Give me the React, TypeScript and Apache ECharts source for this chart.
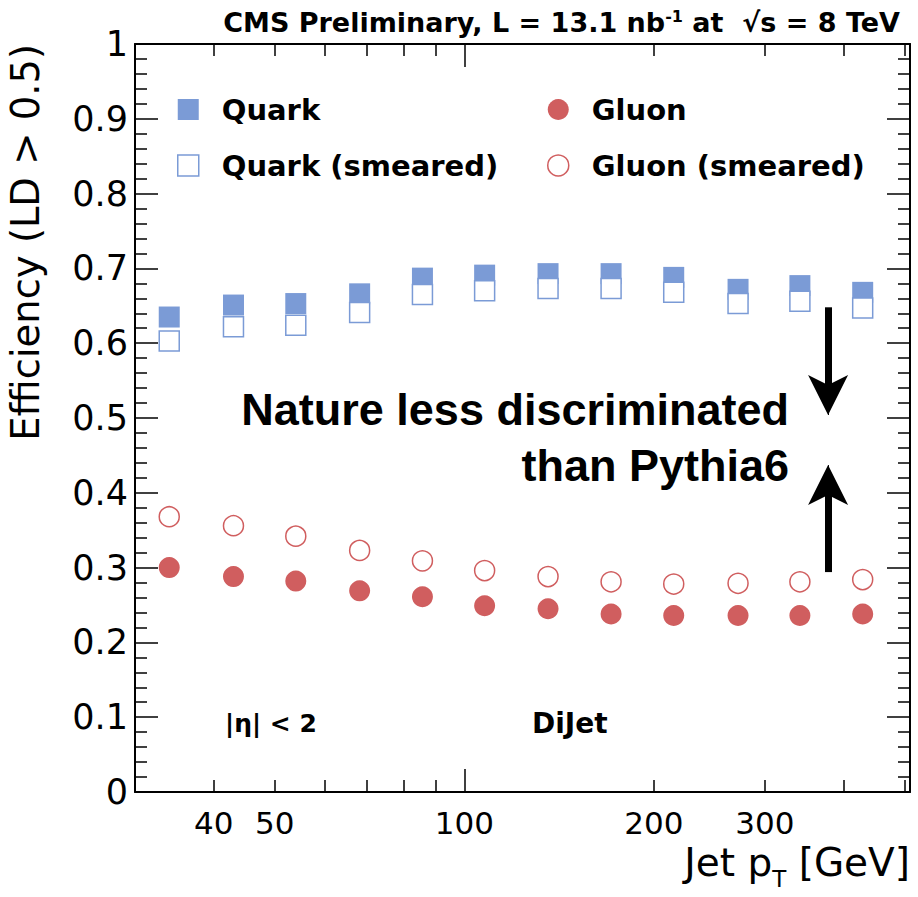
import React, { useEffect, useRef } from 'react';
import * as echarts from 'echarts';

// ---- data ----
const ptBins = [34.0, 43.0, 54.0, 68.2, 85.8, 107.7, 135.8, 171, 215, 272, 341, 429];
const quarkEff = [0.635, 0.651, 0.653, 0.666, 0.687, 0.691, 0.693, 0.693, 0.688, 0.672, 0.677, 0.668];
const quarkSmearedEff = [0.603, 0.622, 0.624, 0.641, 0.665, 0.670, 0.673, 0.673, 0.668, 0.653, 0.656, 0.647];
const gluonEff = [0.300, 0.288, 0.282, 0.269, 0.261, 0.249, 0.245, 0.238, 0.236, 0.236, 0.236, 0.238];
const gluonSmearedEff = [0.368, 0.356, 0.342, 0.323, 0.309, 0.296, 0.288, 0.281, 0.278, 0.279, 0.281, 0.284];

const xTickLabels = [40, 50, 100, 200, 300];
const xMinorTicks = [40, 50, 60, 70, 80, 90, 200, 300, 400, 500];
const xMajorTicks = [100];
const xRange = [30, 510];
const yTickInterval = 0.1;

// annotation arrows (data coordinates: shaft start, shaft end, head base, tip)
const arrowPt = 378;
const arrowDown = [0.648, 0.535, 0.545, 0.504];
const arrowUp = [0.294, 0.405, 0.395, 0.437];

const BLUE = '#7b9bd6';
const RED = '#d05e5f';
const lg = (v: number) => Math.log10(v);

function buildOption() {
  const xMin = lg(xRange[0]);
  const xMax = lg(xRange[1]);
  const axisLineStyle = { color: '#000', width: 2 };
  const tickLineStyle = { color: '#000', width: 1.5 };

  const xAxisBase = {
    type: 'value',
    min: xMin,
    max: xMax,
    splitLine: { show: false },
    minorSplitLine: { show: false },
  };

  const yLabelFmt = (v: number) => {
    if (Math.abs(v) < 1e-9) return '0';
    if (Math.abs(v - 1) < 1e-9) return '1';
    return v.toFixed(1);
  };

  const yAxisBase = {
    type: 'value',
    min: 0,
    max: 1,
    interval: yTickInterval,
    splitLine: { show: false },
    minorSplitLine: { show: false },
    axisLine: { show: true, onZero: false, lineStyle: axisLineStyle },
    axisTick: { show: true, inside: true, length: 23, lineStyle: tickLineStyle },
    minorTick: { show: true, splitNumber: 5, length: 12, lineStyle: tickLineStyle },
  };

  const toPts = (vals: number[]) => ptBins.map((p, i) => [lg(p), vals[i]]);

  const legendText = {
    fontFamily: 'DejaVu Sans',
    fontWeight: 'bold',
    fontSize: 29,
    color: '#000',
    padding: [0, 0, 0, 18],
  };

  const ax = lg(arrowPt);
  const shaftStyle = { color: '#000', width: 7, type: 'solid', opacity: 1 };
  const headStyle = { color: '#000', width: 1, type: 'solid', opacity: 1 };
  const arrowItems = (a: number[]) => [
    [
      { coord: [ax, a[0]], symbol: 'none', lineStyle: shaftStyle },
      { coord: [ax, a[1]], symbol: 'none' },
    ],
    [
      { coord: [ax, a[2]], symbol: 'none', lineStyle: headStyle },
      { coord: [ax, a[3]], symbol: 'arrow' },
    ],
  ];

  return {
    animation: false,
    backgroundColor: '#fff',
    grid: [
      { left: 135, right: 8, top: 44, bottom: 105, outerBoundsMode: 'none' },
      { left: 135, right: 8, top: 44, bottom: 105, outerBoundsMode: 'none' },
    ],
    xAxis: [
      {
        ...xAxisBase,
        gridIndex: 0,
        position: 'bottom',
        axisLine: { show: true, onZero: false, lineStyle: axisLineStyle },
        axisTick: { show: true, inside: true, length: 12, customValues: xMinorTicks.map(lg), lineStyle: tickLineStyle },
        axisLabel: {
          show: true,
          customValues: xTickLabels.map(lg),
          formatter: (v: number) => String(Math.round(Math.pow(10, v))),
          fontFamily: 'DejaVu Sans',
          fontSize: 31,
          color: '#000',
          margin: 15,
        },
      },
      {
        ...xAxisBase,
        gridIndex: 0,
        position: 'top',
        axisLine: { show: true, onZero: false, lineStyle: axisLineStyle },
        axisTick: { show: true, inside: true, length: 12, customValues: xMinorTicks.map(lg), lineStyle: tickLineStyle },
        axisLabel: { show: false },
      },
      {
        ...xAxisBase,
        gridIndex: 1,
        position: 'bottom',
        axisLine: { show: false, onZero: false },
        axisTick: { show: true, inside: true, length: 23, customValues: xMajorTicks.map(lg), lineStyle: tickLineStyle },
        axisLabel: { show: false },
      },
      {
        ...xAxisBase,
        gridIndex: 1,
        position: 'top',
        axisLine: { show: false, onZero: false },
        axisTick: { show: true, inside: true, length: 23, customValues: xMajorTicks.map(lg), lineStyle: tickLineStyle },
        axisLabel: { show: false },
      },
    ],
    yAxis: [
      {
        ...yAxisBase,
        gridIndex: 0,
        position: 'left',
        axisLabel: { formatter: yLabelFmt, fontFamily: 'DejaVu Sans', fontSize: 35, color: '#000', margin: 7 },
      },
      {
        ...yAxisBase,
        gridIndex: 0,
        position: 'right',
        axisLabel: { show: false },
      },
      { type: 'value', gridIndex: 1, min: 0, max: 1, show: false },
    ],
    legend: [
      {
        left: 177,
        top: 95,
        padding: 0,
        orient: 'vertical',
        itemWidth: 21,
        itemHeight: 21,
        itemGap: 27,
        selectedMode: false,
        textStyle: legendText,
        data: [
          { name: 'Quark', itemStyle: { color: BLUE, borderWidth: 0, opacity: 1 } },
          { name: 'Quark (smeared)', itemStyle: { color: '#fff', borderColor: BLUE, borderWidth: 1.5, opacity: 1 } },
        ],
      },
      {
        left: 547,
        top: 95,
        padding: 0,
        orient: 'vertical',
        itemWidth: 21,
        itemHeight: 21,
        itemGap: 27,
        selectedMode: false,
        textStyle: legendText,
        data: [
          { name: 'Gluon', itemStyle: { color: RED, borderWidth: 0, opacity: 1 } },
          { name: 'Gluon (smeared)', itemStyle: { color: '#fff', borderColor: RED, borderWidth: 1.5, opacity: 1 } },
        ],
      },
    ],
    series: [
      {
        name: 'Quark',
        type: 'scatter',
        xAxisIndex: 0,
        yAxisIndex: 0,
        symbol: 'rect',
        symbolSize: 21,
        itemStyle: { color: BLUE, opacity: 1 },
        emphasis: { disabled: true },
        silent: true,
        data: toPts(quarkEff),
      },
      {
        name: 'Quark (smeared)',
        type: 'scatter',
        xAxisIndex: 0,
        yAxisIndex: 0,
        symbol: 'rect',
        symbolSize: 20,
        itemStyle: { color: '#fff', borderColor: BLUE, borderWidth: 1.5, opacity: 1 },
        emphasis: { disabled: true },
        silent: true,
        data: toPts(quarkSmearedEff),
      },
      {
        name: 'Gluon',
        type: 'scatter',
        xAxisIndex: 0,
        yAxisIndex: 0,
        symbol: 'circle',
        symbolSize: 21,
        itemStyle: { color: RED, opacity: 1 },
        emphasis: { disabled: true },
        silent: true,
        data: toPts(gluonEff),
      },
      {
        name: 'Gluon (smeared)',
        type: 'scatter',
        xAxisIndex: 0,
        yAxisIndex: 0,
        symbol: 'circle',
        symbolSize: 20,
        itemStyle: { color: '#fff', borderColor: RED, borderWidth: 1.5, opacity: 1 },
        emphasis: { disabled: true },
        silent: true,
        data: toPts(gluonSmearedEff),
        markLine: {
          silent: true,
          symbol: ['none', 'none'],
          symbolSize: [30, 40],
          label: { show: false },
          emphasis: { disabled: true },
          lineStyle: shaftStyle,
          data: [...arrowItems(arrowDown), ...arrowItems(arrowUp)],
        },
      },
    ],
    graphic: [
      {
        type: 'text',
        x: 900,
        y: 22,
        silent: true,
        style: {
          text: 'CMS Preliminary, L = 13.1 nb{sup|-1} at  √s = 8 TeV',
          fontFamily: 'DejaVu Sans',
          fontWeight: 'bold',
          fontSize: 27,
          fill: '#000',
          align: 'right',
          verticalAlign: 'middle',
          rich: {
            sup: { fontFamily: 'DejaVu Sans', fontWeight: 'bold', fontSize: 16, lineHeight: 16, verticalAlign: 'top', fill: '#000' },
          },
        },
      },
      {
        type: 'text',
        x: 25.5,
        y: 44,
        rotation: Math.PI / 2,
        silent: true,
        style: {
          text: 'Efficiency (LD > 0.5)',
          fontFamily: 'DejaVu Sans',
          fontSize: 38.5,
          fill: '#000',
          align: 'right',
          verticalAlign: 'middle',
        },
      },
      {
        type: 'text',
        x: 910,
        y: 843,
        silent: true,
        style: {
          text: '{m|Jet p}{s|T}{m| [GeV]}',
          align: 'right',
          verticalAlign: 'top',
          fill: '#000',
          rich: {
            m: { fontFamily: 'DejaVu Sans', fontSize: 39, lineHeight: 39, verticalAlign: 'top', fill: '#000' },
            s: { fontFamily: 'DejaVu Sans', fontSize: 23, lineHeight: 72, verticalAlign: 'middle', fill: '#000' },
          },
        },
      },
      {
        type: 'text',
        x: 789,
        y: 409,
        silent: true,
        style: {
          text: 'Nature less discriminated',
          fontFamily: 'Liberation Sans',
          fontWeight: 'bold',
          fontSize: 45,
          fill: '#000',
          align: 'right',
          verticalAlign: 'middle',
        },
      },
      {
        type: 'text',
        x: 789,
        y: 465,
        silent: true,
        style: {
          text: 'than Pythia6',
          fontFamily: 'Liberation Sans',
          fontWeight: 'bold',
          fontSize: 45,
          fill: '#000',
          align: 'right',
          verticalAlign: 'middle',
        },
      },
      {
        type: 'text',
        x: 225,
        y: 723,
        silent: true,
        style: {
          text: '|η| < 2',
          fontFamily: 'DejaVu Sans',
          fontWeight: 'bold',
          fontSize: 25,
          fill: '#000',
          align: 'left',
          verticalAlign: 'middle',
        },
      },
      {
        type: 'text',
        x: 532,
        y: 723,
        silent: true,
        style: {
          text: 'DiJet',
          fontFamily: 'DejaVu Sans',
          fontWeight: 'bold',
          fontSize: 28,
          fill: '#000',
          align: 'left',
          verticalAlign: 'middle',
        },
      },
    ],
  };
}

export default function App() {
  const ref = useRef<HTMLDivElement>(null);
  useEffect(() => {
    if (!ref.current) return;
    const chart = echarts.init(ref.current, null, { renderer: 'svg' });
    chart.setOption(buildOption() as any);
    return () => chart.dispose();
  }, []);
  return (
    <div
      ref={ref}
      style={{ position: 'absolute', left: 0, top: 0, width: 918, height: 897, background: '#fff' }}
    />
  );
}
